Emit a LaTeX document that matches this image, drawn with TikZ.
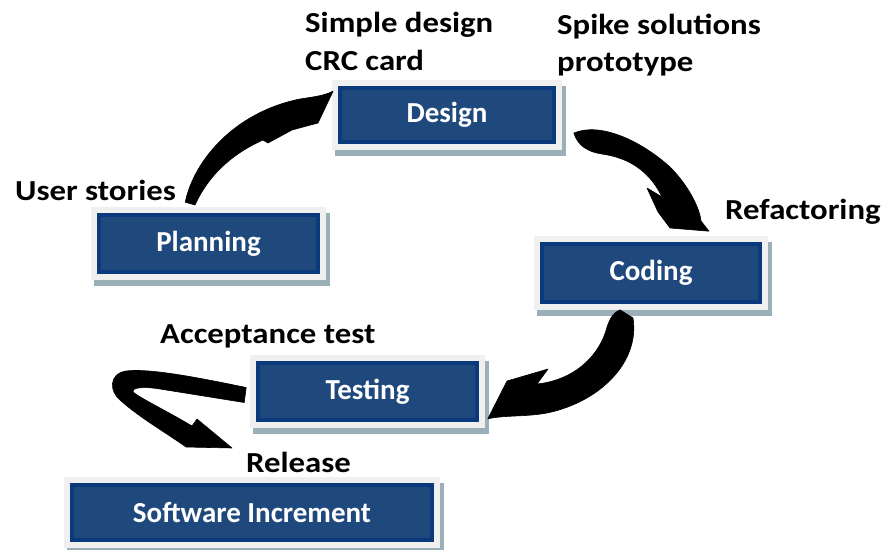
\documentclass[tikz,border=0pt]{standalone}
\usepackage{fontspec}
\setmainfont{Carlito}
\newfontfamily\widefont{Carlito}[FakeStretch=1.13]
\usetikzlibrary{calc,backgrounds}
\definecolor{boxblue}{HTML}{1F497D}
\definecolor{boxedge}{HTML}{0B3A7C}
\definecolor{boxrim}{HTML}{8595B0}
\definecolor{framegray}{HTML}{F0F0F0}
\definecolor{shadowgray}{HTML}{9AAFB7}
\tikzset{
  stepbox/.style={fill=boxblue, draw=boxedge, line width=1.6pt,
    text=white, font=\fontsize{29}{33}\selectfont\bfseries,
    inner sep=0pt, double=boxrim, double distance=0pt},
  lbl/.style={anchor=base west, inner sep=0pt, text=black,
    font=\widefont\fontsize{29}{33}\selectfont\bfseries},
  blockarrow/.style={fill=black, draw=black, line width=0.6pt, line join=round}
}
\begin{document}
\begin{tikzpicture}[x=1pt,y=-1pt]
\useasboundingbox (0,0) rectangle (882,549);

% process boxes
\node[stepbox, minimum width=214pt, minimum height=54pt] (design) at (447,115) {Design};
\node[stepbox, minimum width=219pt, minimum height=57pt] (planning) at (208.5,243.5) {Planning};
\node[stepbox, minimum width=218pt, minimum height=58pt] (coding) at (651,273) {Coding};
\node[stepbox, minimum width=219pt, minimum height=57pt] (testing) at (367.5,391.5) {Testing};
\node[stepbox, minimum width=360pt, minimum height=55pt] (increment) at (252,512.5) {Software Increment};

% light frames with a soft drop shadow behind every box
\begin{pgfonlayer}{background}
  \foreach \n in {design,planning,coding,testing,increment}{
    \fill[shadowgray] ($(\n.north west)+(-4,-1)$) rectangle ($(\n.south east)+(11,13)$);
    \fill[framegray] ($(\n.north west)+(-7,-7)$) rectangle ($(\n.south east)+(7,7)$);
  }
\end{pgfonlayer}

% activity labels
\node[lbl] (simple) at (305,32) {Simple design};
\node[lbl] (crc) at (305,70) {CRC card};
\node[lbl] (spike) at (557,34) {Spike solutions};
\node[lbl] (proto) at (557,71) {prototype};
\node[lbl] (stories) at (15,200) {User stories};
\node[lbl] (refac) at (725,219) {Refactoring};
\node[lbl] (accept) at (160,343) {Acceptance test};
\node[lbl] (release) at (246,472) {Release};

% Planning -> Design
\coordinate (a1) at ($(planning.north west)+(87,-12)$);
\fill[blockarrow] (a1) .. controls (194,160) and (235,112) .. (300,99)
  .. controls (312,97) and (324,96) .. ($(design.west)+(-6,-24)$)
  -- (318,123) -- (292,130) -- (268,143) -- (263,140)
  .. controls (236,152) and (210,172) .. (195,205) -- cycle;

% Design -> Coding
\coordinate (a2) at ($(design.east)+(19,18)$);
\fill[blockarrow] (a2) .. controls (600,122) and (640,140) .. (670,167)
  .. controls (690,187) and (700,210) .. (701,221)
  -- ($(coding.north)+(58,-12)$) -- (670,228) -- (658,212) -- (647,188)
  -- (662,197) .. controls (650,172) and (630,158) .. (602,154)
  .. controls (588,152) and (578,146) .. cycle;

% Coding -> Testing
\coordinate (a3) at ($(coding.south)+(-31,7)$);
\fill[blockarrow] (a3) -- (633,318) .. controls (640,362) and (600,402) .. (547,413)
  .. controls (525,417) and (505,415) .. ($(testing.south east)+(10,-2)$)
  -- (507,381) -- (548,369) -- (537,384)
  .. controls (575,380) and (600,355) .. (607,327)
  .. controls (610,318) and (614,312) .. cycle;

% Testing -> Software Increment
\coordinate (a4) at ($(testing.west)+(-11,-4)$);
\fill[blockarrow] (a4) .. controls (200,378) and (150,368) .. (126,371)
  .. controls (108,374) and (110,392) .. (120,400)
  .. controls (140,418) and (165,432) .. (186,447)
  -- (232,448) -- (197,419) -- (192,426)
  .. controls (165,410) and (140,398) .. (133,392)
  .. controls (131,388) and (142,386) .. (160,389)
  -- ($(testing.west)+(-13,11)$) -- cycle;
\end{tikzpicture}
\end{document}
